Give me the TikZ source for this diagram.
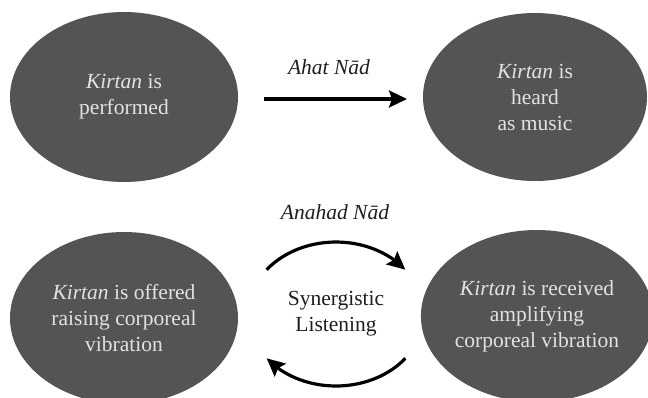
\documentclass[tikz,border=0pt]{standalone}
\usepackage{fontspec}
\setmainfont{Liberation Serif}
\usetikzlibrary{shapes.geometric,arrows.meta,bending}

\definecolor{stagefill}{HTML}{545454}
\definecolor{stagetext}{HTML}{E2E2E2}
\definecolor{labeltext}{HTML}{1E1E1E}

\tikzset{
  stage/.style={ellipse, fill=stagefill, text=stagetext, inner sep=0pt,
    align=center, font=\fontsize{21.5bp}{26bp}\selectfont},
  flowlabel/.style={text=labeltext, inner sep=0pt, align=center,
    font=\fontsize{21.5bp}{26bp}\selectfont},
  flowarrow/.style={line width=3.2bp, draw=black,
    -{Stealth[length=18bp, width=17bp, inset=3bp, flex]}}
}

\begin{document}
\begin{tikzpicture}[x=1bp, y=-1bp]
  \useasboundingbox (0,0) rectangle (648,397);
  \clip (0,0) rectangle (648,397);

  % the four stages
  \node[stage, minimum width=228bp, minimum height=170bp] (performed) at (124,97)
    {\textit{Kirtan} is\\performed};
  \node[stage, minimum width=224bp, minimum height=168bp] (heard) at (535,97)
    {\textit{Kirtan} is\\heard\\as music};
  \node[stage, minimum width=228bp, minimum height=172bp] (offered) at (124,318)
    {\textit{Kirtan} is offered\\raising corporeal\\vibration};
  \node[stage, minimum width=224bp, minimum height=172bp] (received) at (537,316)
    {\textit{Kirtan} is received\\amplifying\\corporeal vibration};

  % Ahat Nad: performed -> heard
  \coordinate (ahatstart) at (264,99);
  \coordinate (ahatend) at (407,99);
  \draw[flowarrow] (ahatstart) -- (ahatend);
  \node[flowlabel, font=\fontsize{21.5bp}{26bp}\selectfont\itshape] (ahat) at (329,67) {Ahat Nād};

  % Anahad Nad: the listening cycle
  \node[flowlabel] (cycle) at (336,314) {Synergistic\\Listening};
  \node[flowlabel, font=\fontsize{21.5bp}{26bp}\selectfont\itshape] (anahad) at (335,212) {Anahad Nād};
  \draw[flowarrow] ([shift={(218:88 and 72)}]cycle.center)
    arc[start angle=218, end angle=322, x radius=88, y radius=72];
  \draw[flowarrow] ([shift={(38:88 and 72)}]cycle.center)
    arc[start angle=38, end angle=142, x radius=88, y radius=72];
\end{tikzpicture}
\end{document}
